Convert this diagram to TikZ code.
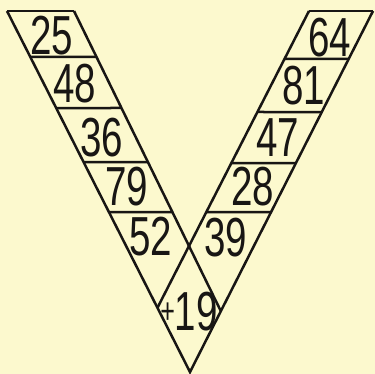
\documentclass[tikz,border=0pt]{standalone}
\usepackage{fontspec}
\usepackage{xcolor}
\usepackage{tikz}
\setmainfont{Liberation Sans}

\definecolor{paper}{RGB}{252,249,206}
\definecolor{ink}{RGB}{24,22,20}
\newcommand{\vnum}[1]{\scalebox{0.7}[1]{#1}}

\begin{document}
\begin{tikzpicture}[x=1pt, y=-1pt, line width=2.5pt, draw=ink,
  num/.style={text=ink, inner sep=0pt, font=\fontsize{55}{55}\selectfont}]

\fill [paper] (0,0) rectangle (375,374);
\useasboundingbox (0,0) rectangle (375,374);

% corners of the two strips
\coordinate (lo) at (7,11);
\coordinate (li) at (74,11);
\coordinate (ri) at (309,11);
\coordinate (ro) at (373,11);
\coordinate (apex) at (190,372);
\coordinate (cross) at (189,246);
\coordinate (le) at (intersection of li--cross and ro--apex);
\coordinate (re) at (intersection of ri--cross and lo--apex);

\draw (lo) -- (li);
\draw (ri) -- (ro);
\draw (lo) -- (apex) -- (ro);
\draw (li) -- (le);
\draw (ri) -- (re);

% rungs
\foreach \y in {57,108,162,212}
  \draw (intersection of lo--apex and 0,\y--1,\y) -- (intersection of li--cross and 0,\y--1,\y);
\foreach \y in {59,112,163,212}
  \draw (intersection of ro--apex and 0,\y--1,\y) -- (intersection of ri--cross and 0,\y--1,\y);

\node [num] (n25) at (52,36) {\vnum{25}};
\node [num] (n48) at (75,84) {\vnum{48}};
\node [num] (n36) at (102,138) {\vnum{36}};
\node [num] (n79) at (127,187) {\vnum{79}};
\node [num] (n52) at (151,237) {\vnum{52}};

\node [num] (n64) at (330,38) {\vnum{64}};
\node [num] (n81) at (304,86) {\vnum{81}};
\node [num] (n47) at (278,138) {\vnum{47}};
\node [num] (n28) at (253,187) {\vnum{28}};
\node [num] (n39) at (226,238) {\vnum{39}};

\node [num] (n19) at (189,312) {\vnum{\raisebox{0.14em}{\scalebox{0.65}{+}}19}};

\end{tikzpicture}
\end{document}
